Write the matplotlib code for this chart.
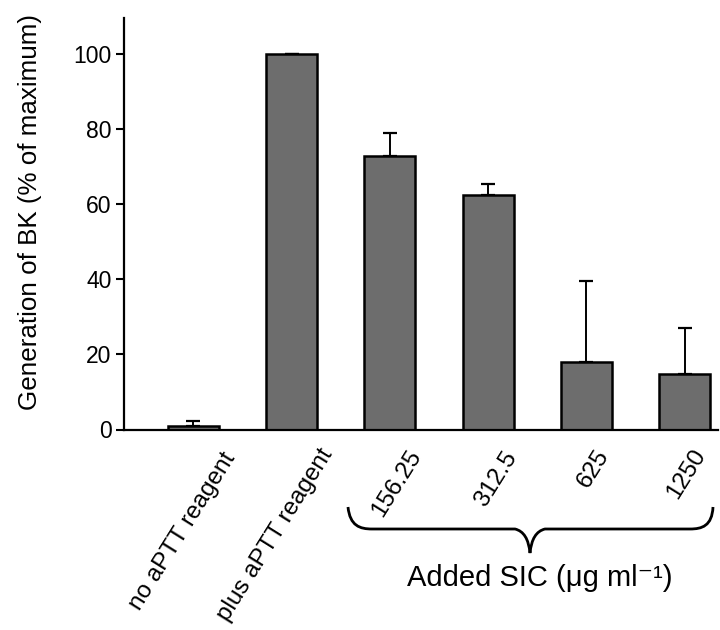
import matplotlib
matplotlib.use("Agg")
import matplotlib.pyplot as plt
import matplotlib.transforms as mtransforms
from matplotlib.path import Path
from matplotlib.patches import PathPatch

plt.rcParams['font.family'] = ['Liberation Sans', 'DejaVu Sans']

# ---- data ----
categories = ["no aPTT reagent", "plus aPTT reagent", "156.25", "312.5", "625", "1250"]
values = [0.8, 100.0, 72.8, 62.4, 18.1, 14.8]
err_upper = [1.5, 0.0, 6.3, 2.9, 21.5, 12.2]
y_ticks = [0, 20, 40, 60, 80, 100]
y_label = "Generation of BK (% of maximum)"
group_label = "Added SIC (\u03bcg ml\u207b\u00b9)"

W, H = 720, 630
fig = plt.figure(figsize=(W / 100, H / 100), dpi=100)
ax = fig.add_axes([124 / W, 1 - 429.5 / H, (718 - 124) / W, (429.5 - 18) / H])

x = list(range(len(categories)))
ax.bar(x, values, width=0.52, color="#6d6d6d", edgecolor="black", linewidth=1.8, zorder=2)
ax.errorbar(x, values, yerr=[[0] * len(values), err_upper], fmt="none",
            ecolor="black", elinewidth=1.4, capsize=5, capthick=1.6, zorder=1)

ax.set_xlim(-0.706, 5.34)
ax.set_ylim(0, 109.6)
ax.set_yticks(y_ticks)
ax.tick_params(axis="y", direction="out", length=6, width=1.5, labelsize=16.5, pad=3)
ax.set_xticks([])
for s in ["top", "right"]:
    ax.spines[s].set_visible(False)
ax.spines["left"].set_linewidth(1.6)
ax.spines["bottom"].set_linewidth(1.6)

# rotated category labels (offsets in pixels from bar centre at y=0)
label_offsets = [(28, -19), (27, -15), (17, -17), (15, -18), (8, -16), (7, -16)]
for xi, lab, (dx, dy) in zip(x, categories, label_offsets):
    ax.annotate(lab, xy=(xi, 0), xytext=(dx, dy), textcoords="offset pixels",
                rotation=58, rotation_mode="anchor", ha="right", va="top",
                fontsize=17.5, annotation_clip=False)

fig.text(30 / W, 1 - 212 / H, y_label, rotation=90, ha="center", va="center", fontsize=18.7)

# brace (figure pixel coordinates, y downward)
pix = mtransforms.Affine2D().scale(1 / W, -1 / H).translate(0, 1) + fig.transFigure
verts = [(348, 507), (350, 526), (360, 529), (372, 529),
         (515, 529), (528, 532), (530, 553), (532, 532), (545, 529), (690, 529),
         (702, 529), (712, 526), (713, 507)]
codes = [Path.MOVETO, Path.CURVE4, Path.CURVE4, Path.CURVE4,
         Path.LINETO, Path.CURVE3, Path.CURVE3, Path.CURVE3, Path.CURVE3, Path.LINETO,
         Path.CURVE4, Path.CURVE4, Path.CURVE4]
brace = PathPatch(Path(verts, codes), transform=pix, facecolor="none",
                  edgecolor="black", linewidth=2.0)
fig.patches.append(brace)

fig.text(540 / W, 1 - 578 / H, group_label, ha="center", va="center", fontsize=21)

fig.savefig("out.png", dpi=100)
